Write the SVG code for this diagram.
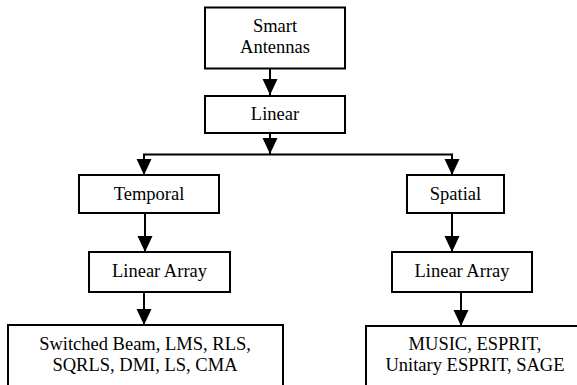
<svg xmlns="http://www.w3.org/2000/svg" width="577" height="385" viewBox="0 0 577 385">
<style>
.box{fill:#fff;stroke:#000;stroke-width:2}
.t{font-family:"Liberation Serif","Times New Roman",serif;font-size:18.5px;fill:#000;text-anchor:middle}
.c{fill:none;stroke:#000;stroke-width:2}
</style>
<defs>
<marker id="ah" markerUnits="userSpaceOnUse" markerWidth="16" markerHeight="16" viewBox="0 0 16 16" refX="16" refY="8" orient="auto">
<path d="M0,0.5 L16,8 L0,15.5 z" fill="#000"/>
</marker>
</defs>
<rect width="577" height="385" fill="#fff"/>
<g id="connectors">
<line class="c" x1="270" y1="68" x2="270" y2="95" marker-end="url(#ah)"/>
<line class="c" x1="270" y1="133" x2="270" y2="154" marker-end="url(#ah)"/>
<line class="c" x1="143" y1="154.5" x2="453" y2="154.5"/>
<line class="c" x1="144" y1="154.5" x2="144" y2="175" marker-end="url(#ah)"/>
<line class="c" x1="452" y1="154.5" x2="452" y2="175" marker-end="url(#ah)"/>
<line class="c" x1="145" y1="213" x2="145" y2="252" marker-end="url(#ah)"/>
<line class="c" x1="144" y1="292" x2="144" y2="325" marker-end="url(#ah)"/>
<line class="c" x1="452" y1="213" x2="452" y2="252" marker-end="url(#ah)"/>
<line class="c" x1="461" y1="292" x2="461" y2="326" marker-end="url(#ah)"/>
</g>
<g id="smart-antennas">
<rect class="box" x="205" y="7.5" width="140" height="61"/>
<text class="t" x="275" y="32">Smart</text>
<text class="t" x="275" y="53">Antennas</text>
</g>
<g id="linear">
<rect class="box" x="205" y="96" width="140" height="37"/>
<text class="t" x="275" y="120">Linear</text>
</g>
<g id="temporal">
<rect class="box" x="79" y="175" width="140" height="38"/>
<text class="t" x="149" y="200">Temporal</text>
</g>
<g id="spatial">
<rect class="box" x="407" y="175" width="97" height="38"/>
<text class="t" x="455.5" y="200">Spatial</text>
</g>
<g id="linear-array-left">
<rect class="box" x="89" y="252" width="141" height="40"/>
<text class="t" x="159.5" y="277">Linear Array</text>
</g>
<g id="linear-array-right">
<rect class="box" x="392" y="252" width="140" height="40"/>
<text class="t" x="462" y="277">Linear Array</text>
</g>
<g id="temporal-methods">
<rect class="box" x="8" y="325" width="275" height="70"/>
<text class="t" x="145" y="350">Switched Beam, LMS, RLS,</text>
<text class="t" x="145" y="371">SQRLS, DMI, LS, CMA</text>
</g>
<g id="spatial-methods">
<rect class="box" x="366" y="326" width="220" height="70"/>
<text class="t" x="475" y="350">MUSIC, ESPRIT,</text>
<text class="t" x="475" y="371">Unitary ESPRIT, SAGE</text>
</g>
</svg>
